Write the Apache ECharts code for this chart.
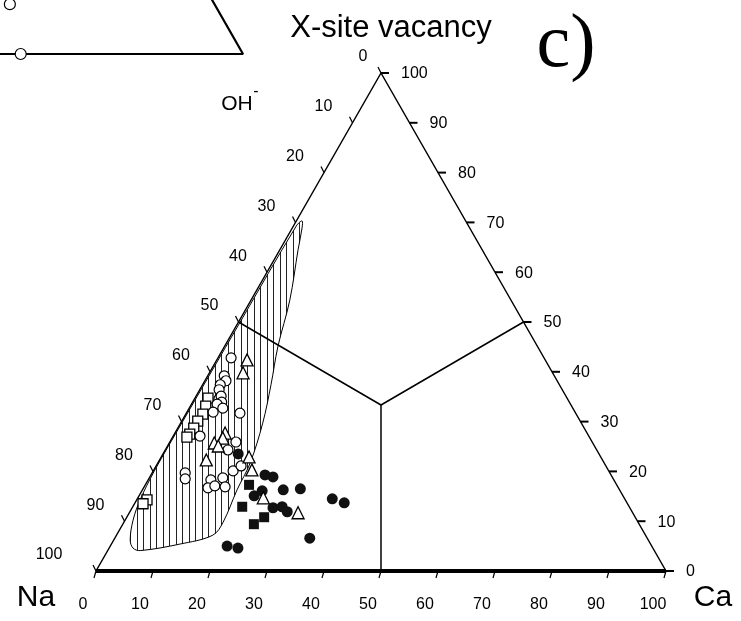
<!DOCTYPE html>
<html><head><meta charset="utf-8">
<script src="https://cdn.jsdelivr.net/npm/echarts@6/dist/echarts.min.js"></script>
<style>html,body{margin:0;padding:0;background:#fff}#c{width:741px;height:621px}</style>
</head><body><div id="c"></div>
<script>
// Compositions given as [Ca %, X-site vacancy %]; Na % = 100 - Ca - vacancy
const openCircles = [[2.3,42.8],[2.9,39.2],[3.7,38.2],[3.1,37.4],[3.4,36.4],[4.3,34.5],[4.4,35.1],[5.1,33.9],[4.5,33.5],[5.9,32.7],[4.6,31.9],[9.4,31.7],[4.7,27.1],[11.6,25.9],[11.0,24.3],[5.8,19.7],[6.4,18.5],[11.0,18.3],[12.9,18.7],[11.3,16.7],[12.3,17.1],[14.2,16.9],[14.0,20.1],[14.9,21.1]];
const openTriangles = [[5.3,42.4],[5.9,39.8],[8.8,27.7],[8.9,26.7],[7.9,25.7],[8.9,25.1],[8.2,22.3],[15.4,22.9],[17.2,20.3],[22.0,14.7],[29.6,11.7]];
const openSquares = [[2.3,34.7],[2.7,33.1],[3.0,31.5],[2.8,30.1],[2.8,28.7],[2.7,27.5],[2.5,26.9],[1.8,14.3],[1.5,13.5]];
const filledCircles = [[13.2,23.5],[20.0,19.3],[21.6,18.9],[21.1,16.1],[20.2,15.1],[24.7,16.3],[27.6,16.5],[24.7,12.7],[26.2,12.9],[27.6,11.9],[34.2,14.5],[36.7,13.7],[34.2,6.6],[20.5,5.0],[22.6,4.6]];
const filledSquares = [[18.2,17.3],[19.2,12.9],[24.1,10.8],[23.0,9.4]];
// outline of the hatched field
const hatchField = [[1.0,70.3],[0.5,69.3],[0.3,50],[0.2,30],[0.2,20],[0.6,14.3],[1.4,10.2],[2.9,6.2],[4.2,4.6],[5.7,4.1],[12.0,5.4],[16.9,7.2],[17.4,9.8],[16.6,16.3],[16.2,21.7],[14.4,29.7],[12.0,37.4],[9.4,45.0],[6.8,54.4],[3.2,64.5],[1.7,68.9]];
// field boundary lines
const boundaryA = [[0,50],[33.333,33.333],[50,50]];
const boundaryB = [[33.333,33.333],[50,0]];
const axisTicks = [0,10,20,30,40,50,60,70,80,90,100];
// fragment of neighbouring panel (b), visible window of its ternary plot
const panelBPoints = [[61,0],[54.1,10.0]];
const panelBWindowX = [57.37, 100];
const panelBWindowY = [0, 10.84];

const toXY = p => [p[0] + p[1]/2, p[1]];
const FONT = 'Arial, "Liberation Sans", sans-serif';

function makePattern(){
  const c = document.createElement('canvas');
  c.width = 13; c.height = 4;
  const g = c.getContext('2d');
  g.fillStyle = '#fff'; g.fillRect(0,0,13,4);
  g.fillStyle = '#222';
  g.fillRect(0,0,1,4); g.fillRect(7,0,1,4);
  return c;
}
const pat = {image: makePattern(), repeat: 'repeat'};

function txt(x,y,s,font,align){
  return {type:'text', x:x, y:y, style:{text:s, font:font, fill:'#000', align:align||'center', verticalAlign:'middle', textAlign:align||'center', textVerticalAlign:'middle'}};
}

const chart = echarts.init(document.getElementById('c'), null, {renderer:'canvas'});
const option = {
  animation:false,
  backgroundColor:'#fff',
  grid:[
    {left:96, top:73, width:570, height:498},
    {left:0, top:0, width:243, height:54}
  ],
  xAxis:[
    {type:'value', min:0, max:100, gridIndex:0, show:false},
    {type:'value', min:panelBWindowX[0], max:panelBWindowX[1], gridIndex:1, show:false}
  ],
  yAxis:[
    {type:'value', min:0, max:100, gridIndex:0, show:false},
    {type:'value', min:panelBWindowY[0], max:panelBWindowY[1], gridIndex:1, show:false}
  ],
  graphic:[
    {type:'text', x:391, y:28, style:{text:'X-site vacancy', font:'31px '+FONT, fill:'#000', align:'center', verticalAlign:'middle'}},
    {type:'text', x:237, y:104, style:{text:'OH', font:'21px '+FONT, fill:'#000', align:'center', verticalAlign:'middle'}},
    {type:'text', x:256, y:92, style:{text:'-', font:'16px '+FONT, fill:'#000', align:'center', verticalAlign:'middle'}},
    {type:'text', x:566, y:46, style:{text:'c)', font:'76px "Liberation Serif", "Times New Roman", serif', fill:'#000', align:'center', verticalAlign:'middle'}},
    {type:'text', x:36, y:598, style:{text:'Na', font:'30px '+FONT, fill:'#000', align:'center', verticalAlign:'middle'}},
    {type:'text', x:713, y:598, style:{text:'Ca', font:'30px '+FONT, fill:'#000', align:'center', verticalAlign:'middle'}}
  ],
  series:[
    {type:'custom', xAxisIndex:0, yAxisIndex:0, clip:false, data:[[0,0]], z:1,
     renderItem:function(params, api){
       const pts = hatchField.map(p => api.coord(toXY(p)));
       return {type:'polygon', shape:{points:pts, smooth:0.35}, style:{fill:pat, stroke:'#000', lineWidth:1}};
     }},
    {type:'line', xAxisIndex:0, yAxisIndex:0, symbol:'none', z:3, data:[[0,0],[50,100],[100,0]], lineStyle:{color:'#000', width:1.5}},
    {type:'line', xAxisIndex:0, yAxisIndex:0, symbol:'none', z:3, data:[[0,0],[100,0]], lineStyle:{color:'#000', width:4}},
    {type:'line', xAxisIndex:0, yAxisIndex:0, symbol:'none', z:3, data:boundaryA.map(toXY), lineStyle:{color:'#000', width:1.5}},
    {type:'line', xAxisIndex:0, yAxisIndex:0, symbol:'none', z:3, data:boundaryB.map(toXY), lineStyle:{color:'#000', width:1.5}},
    // left axis (Na)
    {type:'custom', xAxisIndex:0, yAxisIndex:0, clip:false, z:4, data:axisTicks.map(k=>[k,0]),
     renderItem:function(params, api){
       const k = api.value(0);
       const p = api.coord(toXY([0, 100-k]));
       const s = String(k);
       const dx = s.length===1 ? -18 : (s.length===2 ? -29 : -47);
       return {type:'group', children:[
         {type:'line', shape:{x1:p[0], y1:p[1], x2:p[0]-3, y2:p[1]-6}, style:{stroke:'#000', lineWidth:1.2}},
         txt(p[0]+dx, p[1]-16, s, '16px '+FONT)
       ]};
     }},
    // right axis (vacancy)
    {type:'custom', xAxisIndex:0, yAxisIndex:0, clip:false, z:4, data:axisTicks.map(k=>[k,0]),
     renderItem:function(params, api){
       const k = api.value(0);
       const p = api.coord(toXY([100-k, k]));
       return {type:'group', children:[
         {type:'line', shape:{x1:p[0], y1:p[1], x2:p[0]+8, y2:p[1]}, style:{stroke:'#000', lineWidth:2}},
         txt(p[0]+20, p[1]+1, String(k), '16px '+FONT, 'left')
       ]};
     }},
    // bottom axis (Ca)
    {type:'custom', xAxisIndex:0, yAxisIndex:0, clip:false, z:4, data:axisTicks.map(k=>[k,0]),
     renderItem:function(params, api){
       const k = api.value(0);
       const p = api.coord(toXY([k, 0]));
       return {type:'group', children:[
         {type:'line', shape:{x1:p[0], y1:p[1], x2:p[0]-2, y2:p[1]+7}, style:{stroke:'#000', lineWidth:1.2}},
         txt(p[0]-13, p[1]+34, String(k), '16px '+FONT)
       ]};
     }},
    {type:'scatter', xAxisIndex:0, yAxisIndex:0, z:10, symbol:'circle', symbolSize:11, data:filledCircles.map(toXY), itemStyle:{color:'#111', opacity:1}},
    {type:'scatter', xAxisIndex:0, yAxisIndex:0, z:10, symbol:'rect', symbolSize:10, data:filledSquares.map(toXY), itemStyle:{color:'#111', opacity:1}},
    {type:'scatter', xAxisIndex:0, yAxisIndex:0, z:11, symbol:'rect', symbolSize:10, data:openSquares.map(toXY), itemStyle:{color:'#fff', borderColor:'#000', borderWidth:1.3, opacity:1}},
    {type:'scatter', xAxisIndex:0, yAxisIndex:0, z:11, symbol:'circle', symbolSize:10, data:openCircles.map(toXY), itemStyle:{color:'#fff', borderColor:'#000', borderWidth:1.2, opacity:1}},
    {type:'scatter', xAxisIndex:0, yAxisIndex:0, z:12, symbol:'triangle', symbolSize:12, data:openTriangles.map(toXY), itemStyle:{color:'#fff', borderColor:'#000', borderWidth:1.3, opacity:1}},
    // panel b fragment
    {type:'line', xAxisIndex:1, yAxisIndex:1, symbol:'none', clip:true, data:[[0,0],[100,0],[50,100]], lineStyle:{color:'#000', width:2.2}},
    {type:'scatter', xAxisIndex:1, yAxisIndex:1, clip:false, z:5, symbol:'circle', symbolSize:11, data:panelBPoints.map(toXY), itemStyle:{color:'#fff', borderColor:'#000', borderWidth:1.2, opacity:1}}
  ]
};
chart.setOption(option);
</script></body></html>
